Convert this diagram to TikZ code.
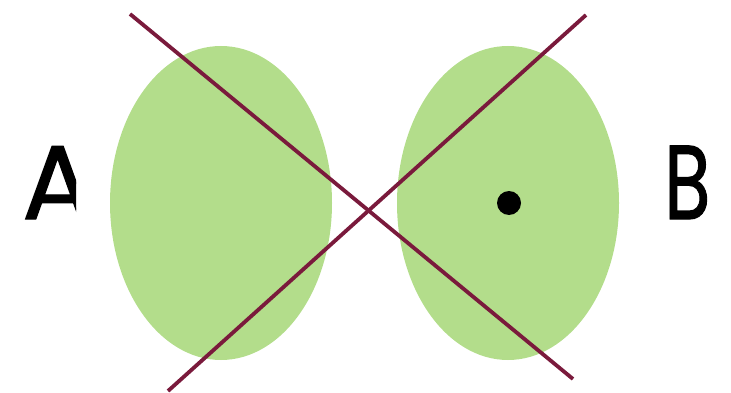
\documentclass[tikz,border=0pt]{standalone}
\usepackage{fontspec}
\setmainfont{Poppins}
\newfontfamily\letterfont{Poppins}[FakeBold=1.2]
\usetikzlibrary{shapes.geometric}
\definecolor{leaf}{HTML}{B3DD8B}
\definecolor{wine}{HTML}{7A1A3C}
\tikzset{
  blob/.style={ellipse, fill=leaf, draw=none, minimum width=222pt, minimum height=314pt, inner sep=0pt},
  cross/.style={draw=wine, line width=3.8pt},
  letter/.style={font=\letterfont\fontsize{105}{105}\selectfont, inner sep=0pt, anchor=base west}
}
\begin{document}
\begin{tikzpicture}[x=1pt,y=-1pt]
\useasboundingbox (0,0) rectangle (731,393);
\node[blob] (left) at (221,203) {};
\node[blob] (right) at (508,203) {};
\coordinate (l1a) at (130,14);
\coordinate (l1b) at (573,379);
\coordinate (l2a) at (586,15);
\coordinate (l2b) at (168,391);
\draw[cross] (l1a) -- (l1b);
\draw[cross] (l2a) -- (l2b);
\fill[black] (509,203) circle (12pt) node (dot) {};
\begin{scope}
\clip (0,0) rectangle (76,393);
\node[letter] (A) at (22,219) {A};
\end{scope}
\node[letter, xscale=0.72] (B) at (664,219) {B};
\end{tikzpicture}
\end{document}
